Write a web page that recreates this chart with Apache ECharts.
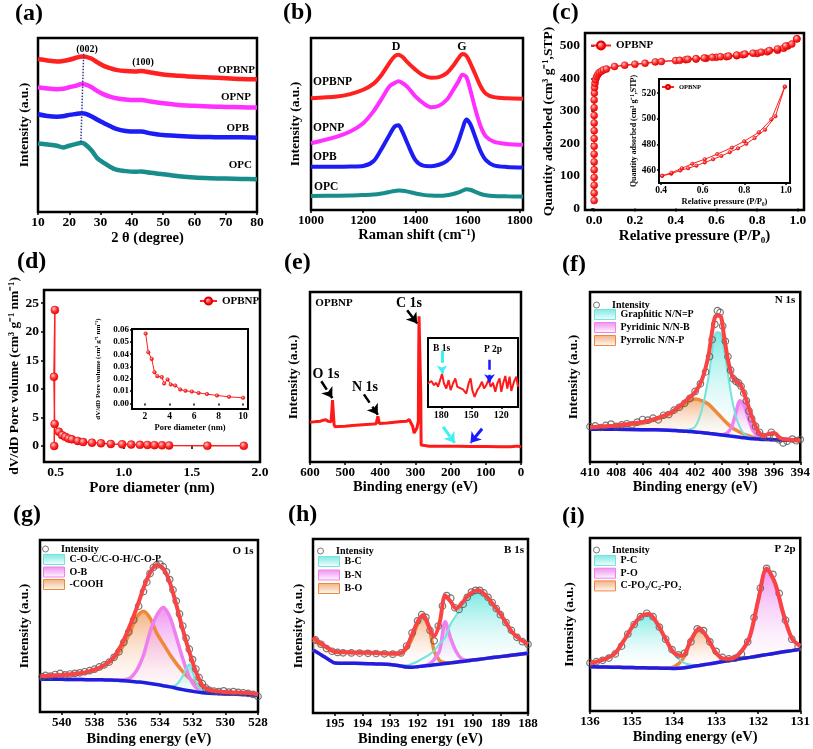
<!DOCTYPE html>
<html><head><meta charset="utf-8">
<script src="https://cdn.jsdelivr.net/npm/echarts@6/dist/echarts.min.js"></script>
<style>html,body{margin:0;padding:0;background:#fff}#c{width:813px;height:749px}</style>
</head><body><div id="c"></div>
<script>
// ---------- (a) XRD ----------
const xrdTheta = [10,13,16,18,20,22,24,25,27,29,31,33,35,38,41,43,46,50,55,60,65,70,75,80];
const xrdOPBNP = [87.9,87.1,86.5,86.8,87.5,88.5,89.4,89.3,88.2,86.0,84.0,82.7,81.7,81.0,80.8,81.0,80.2,79.0,78.3,77.7,77.3,76.9,76.5,76.3];
const xrdOPNP = [71.7,71.0,70.6,70.8,71.7,72.5,73.5,73.3,71.8,69.5,67.6,66.3,65.4,64.7,64.4,64.4,63.5,62.5,61.5,61.0,60.6,60.4,60.2,60.0];
const xrdOPB = [56.2,55.2,54.8,55.0,55.8,56.3,56.7,56.5,55.0,53.0,51.2,49.4,47.8,46.6,46.2,46.2,45.2,44.2,43.7,43.3,43.1,42.9,42.9,42.7];
const xrdOPC = [39.4,38.8,38.1,37.1,38.1,39.0,39.8,39.0,35.6,30.8,28.3,26.0,24.4,23.5,23.1,23.3,22.5,21.7,20.6,19.8,19.4,19.2,19.0,18.8];
const xrdTicks = [10,20,30,40,50,60,70,80];
// ---------- (b) Raman ----------
const ramanShift = [1000,1100,1150,1200,1240,1270,1300,1320,1335,1350,1370,1400,1430,1460,1490,1520,1545,1565,1580,1595,1610,1630,1650,1670,1700,1750,1812];
const ramanOPBNP = [65.0,66.0,67.4,69.9,73.5,78.5,85.4,89.3,90.3,89.1,85.8,81.6,78.3,76.9,77.3,79.6,83.9,88.3,90.7,89.7,85.4,78.6,71.8,67.6,65.6,64.9,64.7];
const ramanOPNP = [38.8,42.7,45.6,50.5,57.5,64.5,71.8,73.8,74.8,73.8,71.5,66.0,62.1,59.8,60.6,64.1,69.9,74.8,78.6,77.3,69.9,58.3,48.5,42.7,39.8,38.4,37.9];
const ramanOPB = [25.2,25.2,25.3,25.6,28.5,35.5,43.5,48.5,49.3,45.5,38.5,29.0,25.8,25.5,26.3,28.5,33.0,40.2,47.0,52.6,50.0,42.0,34.0,29.0,26.0,25.0,24.7];
const ramanOPC = [8.2,8.3,8.4,8.7,9.0,9.6,10.5,11.1,11.3,11.2,10.7,9.6,8.8,8.4,8.3,8.6,9.3,10.2,11.2,12.0,11.8,10.5,9.3,8.6,8.2,8.0,7.8];
const ramanTicks = [1000,1200,1400,1600,1800];
// ---------- (c) N2 isotherm ----------
const betAdsP = [0,0,0,0,0,0,0,0,0,0,0,0,0,0,0.001,0.002,0.004,0.007,0.012,0.018,0.025,0.035,0.045,0.06,0.1,0.15,0.2,0.25,0.3,0.33,0.4,0.45,0.5,0.55,0.6,0.65,0.7,0.73,0.8,0.85,0.9,0.93,0.95,0.995];
const betAdsQ = [24,47,71,95,119,143,167,191,215,239,263,286,310,334,355,372,385,396,405,412,418,422,426,429,437,441,444,447,451,452,455,458,460,462,465,467,470,473,477,482,487,493,500,522];
const betDesP = [0.995,0.97,0.94,0.9,0.86,0.82,0.78,0.74,0.7,0.66,0.62,0.58,0.54,0.5,0.46,0.42];
const betDesQ = [522,506,500,491,486,481,478,475,472,469,467,465,463,461,459,456];
const betInAdsP = [0.405,0.449,0.492,0.53,0.57,0.61,0.65,0.69,0.73,0.77,0.81,0.85,0.9,0.95,0.995];
const betInAdsQ = [455.6,457.2,459.8,461.5,463.5,466,468.5,471,474,477,480.5,485,491.5,502,525];
const betInDesP = [0.995,0.93,0.87,0.8,0.74,0.67,0.61,0.55,0.5,0.45,0.405];
const betInDesQ = [525,499.5,489.5,482.5,477.5,472.5,468.5,465,461.5,458,455.6];
const betXTicks = [0,0.2,0.4,0.6,0.8,1.0];
const betYTicks = [0,100,200,300,400,500];
const betInXTicks = [0.4,0.6,0.8,1.0];
const betInYTicks = [460,480,500,520];
// ---------- (d) pore size ----------
const poreD = [0.49,0.495,0.488,0.493,0.524,0.548,0.571,0.595,0.619,0.662,0.702,0.767,0.833,0.905,0.988,1.055,1.119,1.174,1.226,1.281,1.333,1.614,1.881];
const poreV = [0,23.8,12.1,3.85,2.5,1.9,1.6,1.3,1.17,0.88,0.7,0.58,0.47,0.35,0.3,0.25,0.2,0.18,0.15,0.12,0.1,0.05,0.03];
const poreInD = [2.05,2.27,2.55,2.77,3.0,3.37,3.56,3.84,4.1,4.46,4.87,5.3,5.82,6.37,7.05,7.87,8.85,10.0];
const poreInV = [0.0568,0.0416,0.0362,0.0254,0.0222,0.0214,0.0162,0.0195,0.0154,0.0146,0.0114,0.0103,0.0097,0.0086,0.0076,0.0065,0.0054,0.0046];
const poreXTicks = [0.5,1.0,1.5,2.0];
const poreYTicks = [0,5,10,15,20,25];
const poreInXTicks = [2,4,6,8,10];
const poreInYTicks = [0,0.01,0.02,0.03,0.04,0.05,0.06];
// ---------- (e) XPS survey ----------
const surveyBE = [600,590,580,570,562,555,548,540,537,536,532.5,531.5,529,520,500,480,460,440,420,412,409,407,405,403,400,380,360,340,325,318,314,308,304,300,296,292,291,290,287,285,284,280,260,220,180,140,100,60,30,15,10,5,0];
const surveyI = [23.3,23.6,23.8,24.0,24.6,24.8,23.9,23.6,24.2,36.4,36.7,22.0,20.8,20.9,21.1,21.4,21.7,22.0,22.3,22.5,22.6,26.9,26.5,22.6,22.4,23.0,23.4,23.8,24.0,25.0,25.2,21.0,17.0,17.5,20.0,24.0,60.0,85.7,85.7,40.0,10.0,9.3,9.3,9.2,9.2,9.1,9.1,9.0,9.0,9.2,9.8,9.2,8.8];
const surveyInBE = [193.3,191.7,190,187.3,185,183.3,181.7,179.3,177.3,175,172.7,170.7,168.3,166,164,161.7,158.3,155,152.7,150.7,149,146.7,144,141.7,139.3,137.3,135,132.7,130.7,128.3,126,124,121.7,120,118.3,116,114,111.7,110,107.3,105,103.3];
const surveyInI = [34,34.1,37.6,31.7,35.1,29.3,36.6,47.8,34.1,26.8,39.0,24.4,34.1,41.5,29.3,27.8,25.4,19.5,34.1,41.5,24.4,14.6,24.4,29.3,36.6,26.8,31.7,40.0,29.3,35.1,22.0,34.1,41.5,22.0,33.2,44.9,26.8,43.9,23.4,36.6,43.9,29.3];
const surveyTicks = [0,100,200,300,400,500,600];
const surveyInTicks = [120,150,180];
// ---------- (f) N 1s ----------
const n1sBE = [410,408,406,405,404,403.5,403,402.5,402,401.5,401,400.7,400.4,400.1,399.8,399.5,399.2,398.9,398.6,398.3,398,397.6,397.2,396.8,396.4,396,395.5,395,394];
const n1sBg = [19.3,19.2,19.0,18.9,18.7,18.5,18.3,18.0,17.7,17.3,16.9,16.6,16.3,16.0,15.7,15.4,15.1,14.8,14.5,14.2,14.0,13.7,13.5,13.3,13.2,13.1,13.0,12.9,12.7];
const n1sPyrrolic = [1.2,2.0,3.8,6.0,9.2,11.8,14.5,17.5,19.3,18.8,17.2,15.3,13.2,11.0,8.8,6.9,5.3,4.0,3.0,2.2,1.6,0.9,0.5,0.3,0.2,0.1,0,0,0];
const n1sPyridinic = [0,0,0,0,0,0,0,0,0,0,0,0,0,0,0.5,2,6,14,21.5,20,13,5,1.5,0.4,0,0,0,0,0];
const n1sGraphitic = [0,0,0,0,0,0,0.3,1,3,13,32,48,60,60,50,36,22,12,6,2.5,1,0.3,0,0,0,0,0,0,0];
const n1sFit = [20.5,21.5,23.5,25.5,28.5,31,34,37.5,41,48,62,77,86,86,74,60,51,47.5,46,41,34,25,18,15.5,16.5,17,14,13.3,12.8];
const n1sRawBE = [410,409.6,409.2,408.8,408.4,408,407.6,407.2,406.8,406.4,406,405.6,405.2,404.8,404.4,404,403.6,403.2,402.8,402.4,402,401.6,401.2,400.9,400.7,400.5,400.3,400.1,399.9,399.7,399.5,399.3,399.1,398.9,398.7,398.5,398.3,398.1,397.9,397.7,397.4,397.1,396.8,396.5,396.2,395.9,395.6,395.3,395,394.6,394.3,394];
const n1sRawI = [20.8,21.2,20.3,21.5,22.3,21.0,21.8,22.5,21.9,23.5,25.0,24.6,25.8,24.8,27.5,27.9,30.5,32.2,34.5,37.5,41.5,46,53,62,72,81,89,88,80,71,62,54,49,47.5,46.5,44.5,40.5,36,30,25.5,21,17.5,15,14.5,17.5,14.3,13,11.2,12.2,13.5,12.5,13.2];
const n1sTicks = [394,396,398,400,402,404,406,408,410];
// ---------- (g) O 1s ----------
const o1sBE = [541.3,541,540.5,540,539.5,539,538.5,538,537.5,537,536.6,536.2,535.8,535.4,535,534.6,534.2,533.8,533.4,533,532.6,532.2,531.8,531.4,531,530.5,530,529.5,529,528.5,528];
const o1sBg = [19.0,19.0,19.0,19.0,18.9,18.9,18.8,18.8,18.7,18.6,18.4,18.2,17.9,17.5,17.1,16.6,16.0,15.3,14.6,13.8,13.0,12.3,11.7,11.2,10.9,10.7,10.5,10.4,10.2,10.1,9.7];
const o1sCOOH = [1.4,1.6,1.9,2.2,2.7,3.3,4.2,5.6,7.8,11,15,21,29,38,41.5,38,30,24.5,19,14.5,10.5,7.3,5,3.3,2.3,1.5,1.0,0.7,0.5,0.3,0.2];
const o1sOB = [0,0,0,0,0,0,0,0,0,0,0,0.5,2,7,16,30,40,45.5,41,30,18,8,2.5,0.6,0.1,0,0,0,0,0,0];
const o1sCOC = [0,0,0,0,0,0,0,0,0,0,0,0,0,0,0,0,0,0,0.3,2,8,15.5,6,1,0.2,0,0,0,0,0,0];
const o1sFit = [20.8,21.0,21.3,21.5,22,22.5,23.2,24.6,26.8,30,35,42,51,61,72,81,85.5,83.5,75.5,62.5,48,35,23.5,15.5,13,12,11.6,11.4,11.2,11,10.3];
const o1sRawBE = [541.2,541.0,540.7,540.4,540.1,539.8,539.5,539.2,538.9,538.6,538.3,538.0,537.7,537.4,537.1,536.8,536.5,536.2,535.9,535.6,535.3,535.0,534.8,534.6,534.4,534.2,534.0,533.8,533.6,533.4,533.2,533.0,532.8,532.6,532.4,532.2,532.0,531.8,531.6,531.4,531.2,531.0,530.7,530.4,530.1,529.8,529.5,529.2,528.9,528.6,528.3,528.0];
const o1sRawI = [20.5,21.3,20.9,21.8,22.4,21.6,22.1,22.4,22.8,23.4,24.0,24.9,26.2,27.4,29.0,31.8,35.0,40.5,46.5,53.5,61.5,70.0,75.5,80.5,84.0,85.5,86.0,84.5,81.5,77.0,71.0,64.5,57,50,43,36.5,30.5,25,20,16.5,14,12.8,12.2,11.8,12.3,11.6,11.9,11.4,11.2,10.8,10.2,9.0];
const o1sTicks = [528,530,532,534,536,538,540];
// ---------- (h) B 1s ----------
const b1sBE = [195.79,195.5,195.2,195,194.5,194,193.5,193,192.6,192.4,192.2,192,191.8,191.6,191.4,191.2,191,190.8,190.6,190.4,190.2,190,189.8,189.5,189.2,189,188.6,188.3,188];
const b1sBg = [36.2,33.5,30.5,28.8,28.6,28.5,28.2,27.9,27.0,26.4,26.3,26.6,27.0,27.3,27.7,28.0,28.4,28.8,29.2,29.6,30.0,30.4,30.8,31.4,32.0,32.4,33.2,33.8,34.4];
const b1sBO = [5.5,5.8,6.2,6.3,6.4,6.4,6.4,6.5,7.5,10.5,16.5,24.5,29.3,23,8,2,0.5,0,0,0,0,0,0,0,0,0,0,0,0];
const b1sBN = [0,0,0,0,0,0,0,0,0,0,0,0,0,0.5,3,8,24,14,6,1.5,0.3,0,0,0,0,0,0,0,0];
const b1sBC = [0,0,0,0,0,0,0,0,0.3,1,2,3,4.5,6,8,12,15,22.5,27,31,35,37.5,38,35,28.5,24.5,14,9,5.5];
const b1sFit = [43.5,40,36.8,35.2,34.8,34.6,34.5,34,34.5,38,45,52.5,56.3,50,44,52,67.5,64,60,63,67,69.5,70.5,67,61,57,47,42.5,39.5];
const b1sRawBE = [195.7,195.5,195.3,195.1,194.9,194.7,194.4,194.1,193.8,193.5,193.2,192.9,192.6,192.4,192.2,192.0,191.85,191.7,191.55,191.4,191.25,191.1,190.95,190.8,190.65,190.5,190.35,190.2,190.05,189.9,189.75,189.6,189.45,189.3,189.15,189.0,188.8,188.6,188.4,188.2,188.0];
const b1sRawI = [42,39.5,37,35.5,34.8,34.6,34.5,34.4,34.3,34.2,34,33.8,34.5,38.5,46,53,56.5,55,47.5,41.5,50,61.5,67.5,66,60.5,59.5,62.5,66.5,69.5,70.5,70.5,69,66.5,63.5,60,56.5,52,47.5,43.5,41,39.5];
const b1sTicks = [188,189,190,191,192,193,194,195];
// ---------- (i) P 2p ----------
const p2pBE = [136,135.8,135.6,135.4,135.2,135,134.8,134.6,134.4,134.2,134,133.8,133.6,133.4,133.2,133,132.8,132.6,132.4,132.2,132,131.8,131.6,131.4,131.2,131];
const p2pBg = [25.6,25.5,25.4,25.3,25.2,25.1,25.0,24.9,24.8,24.7,24.6,24.8,25.6,26.3,27.1,27.9,28.7,29.5,30.3,31.0,31.8,32.6,33.4,34.2,34.9,35.7];
const p2pCPO = [0,0,0,0,0,0,0,0,0,0,1,5,15,21.5,15,5.5,1.2,0.2,0,0,0,0,0,0,0,0];
const p2pPO = [0,0,0,0,0,0,0,0,0,0,0,0,0,0,0,0,0.3,1,4,12,32,49.7,40,22,7,2];
const p2pPC = [1.8,2.8,4.5,8,15,23,29.5,31,25.5,16.5,8.5,3.5,1.2,0.3,0,0,0,0,0,0,0,0,0,0,0,0];
const p2pFit = [27.4,28.8,30.5,33.5,40.5,48.5,54.5,56,50.5,41.5,33.5,32,41,47.8,42,33.5,30.2,30.5,34.5,43,64,82.3,74,56,42,37.5];
const p2pRawBE = [136,135.85,135.7,135.55,135.4,135.25,135.1,134.95,134.8,134.65,134.5,134.35,134.2,134.05,133.9,133.75,133.6,133.45,133.3,133.15,133.0,132.85,132.7,132.55,132.4,132.25,132.1,131.95,131.8,131.65,131.5,131.35,131.2,131.05];
const p2pRawI = [27.8,28.5,29.3,30.6,33,37.5,44.5,50,54.5,56.5,54.5,48.5,41.5,35.5,32.5,33.5,40,47.5,46.5,40,34.5,31,30.2,30.5,33,40,54,71,82.5,79,68,52.5,41.5,37.5];
const p2pTicks = [131,132,133,134,135,136];

// ================= build =================
const F = 'Liberation Serif';
const K = '#000';
const zip = (xs, ys) => xs.map((x, i) => [x, ys[i]]);
const vgrad = (c1, c2) => new echarts.graphic.LinearGradient(0, 0, 0, 1, [{offset: 0, color: c1}, {offset: 1, color: c2}]);
const ball = {type: 'radial', x: 0.38, y: 0.35, r: 0.7, colorStops: [{offset: 0, color: '#ffc8c8'}, {offset: 0.5, color: '#ff3030'}, {offset: 1, color: '#e00000'}]};

const gridBoxes = [
  [38, 38, 219, 174],   // 0 a
  [311, 38, 212, 172],  // 1 b
  [585, 33, 219, 177],  // 2 c
  [659, 79, 131, 104],  // 3 c inset
  [44, 290, 216, 172],  // 4 d
  [132, 329, 116, 80],  // 5 d inset
  [310, 292, 211, 170], // 6 e
  [428, 338, 90, 69],   // 7 e inset
  [590, 292, 211, 170], // 8 f
  [40, 540, 218, 172],  // 9 g
  [313, 539, 215, 174], // 10 h
  [590, 538, 211, 173]  // 11 i
];
const insetIdx = [3, 5, 7];
const grid = gridBoxes.map((b, i) => ({
  left: b[0], top: b[1], width: b[2], height: b[3], show: true,
  borderColor: K, borderWidth: insetIdx.includes(i) ? 2 : 2.5,
  backgroundColor: insetIdx.includes(i) ? '#fff' : 'transparent', containLabel: false
}));

function ax(gi, min, max, ticks, o) {
  o = o || {};
  const hasT = !!ticks;
  return {
    gridIndex: gi, type: 'value', min: min, max: max, inverse: !!o.inverse,
    axisLine: {show: false}, splitLine: {show: false},
    axisTick: {show: hasT, length: o.tl || 3, lineStyle: {color: K, width: 1.5}, customValues: ticks},
    axisLabel: {show: hasT, customValues: ticks, fontFamily: F, fontWeight: 'bold', fontSize: o.fs || 13, color: K, margin: o.margin || 4, formatter: o.fmt || (v => String(v))},
    name: o.name || '', nameLocation: 'middle', nameGap: o.gap || 18,
    nameTextStyle: {fontFamily: F, fontWeight: 'bold', fontSize: o.nfs || 14.5, color: K}
  };
}
const f1 = v => v.toFixed(1);
const f2 = v => v.toFixed(2);
const INT = 'Intensity (a.u.)';
const BE = 'Binding energy (eV)';

const xAxis = [
  ax(0, 10, 80, xrdTicks, {name: '2 θ (degree)', gap: 19, fs: 13.5}),
  ax(1, 1000, 1812, ramanTicks, {name: 'Raman shift (cm⁻¹)', gap: 18}),
  ax(2, -0.045, 1.03, betXTicks, {name: 'Relative pressure (P/P₀)', gap: 19, fmt: f1, fs: 13.5, nfs: 15}),
  ax(3, 0.39, 1.02, betInXTicks, {name: 'Relative pressure (P/P₀)', gap: 13, fmt: f1, fs: 9.5, nfs: 8.5, margin: 3, tl: 2}),
  ax(4, 0.415, 2.0, poreXTicks, {name: 'Pore diameter (nm)', gap: 18, fmt: f1, fs: 13.5, nfs: 15}),
  ax(5, 0.94, 10.4, poreInXTicks, {name: 'Pore diameter (nm)', gap: 14, fs: 9.5, nfs: 8.5, margin: 3, tl: 2}),
  ax(6, 0, 600, surveyTicks, {name: BE, gap: 18, inverse: true}),
  ax(7, 103.3, 193.3, surveyInTicks, {inverse: true, fs: 10, margin: 3, tl: 2}),
  ax(8, 394, 410, n1sTicks, {name: BE, gap: 18, inverse: true}),
  ax(9, 528, 541.33, o1sTicks, {name: BE, gap: 20, inverse: true}),
  ax(10, 188, 195.79, b1sTicks, {name: BE, gap: 19, inverse: true}),
  ax(11, 131, 136, p2pTicks, {name: BE, gap: 19, inverse: true})
];
const yAxis = [
  ax(0, 0, 100, null, {name: INT, gap: 6, nfs: 13.5}),
  ax(1, 0, 100, null, {name: INT, gap: 8, nfs: 13.5}),
  ax(2, -5, 540, betYTicks, {name: 'Quantity adsorbed (cm³ g⁻¹,STP)', gap: 24, fs: 13.5, nfs: 13.5, margin: 5}),
  ax(3, 450, 531, betInYTicks, {name: 'Quantity adsorbed (cm³ g⁻¹,STP)', gap: 21, fs: 9.5, nfs: 8, margin: 3, tl: 2}),
  ax(4, -2.8, 27.3, poreYTicks, {name: 'dV/dD Pore volume (cm³ g⁻¹ nm⁻¹)', gap: 22, fs: 13.5, nfs: 13.5, margin: 5}),
  ax(5, -0.0045, 0.0605, poreInYTicks, {name: 'dV/dD Pore volume (cm³ g⁻¹ nm⁻¹)', gap: 30, fmt: f2, fs: 9, nfs: 7, margin: 3, tl: 2}),
  ax(6, 0, 100, null, {name: INT, gap: 9, nfs: 13.5}),
  ax(7, 0, 100, null, {}),
  ax(8, 0, 100, null, {name: INT, gap: 9, nfs: 13.5}),
  ax(9, 0, 100, null, {name: INT, gap: 8, nfs: 13.5}),
  ax(10, 0, 100, null, {name: INT, gap: 7, nfs: 13.5}),
  ax(11, 0, 100, null, {name: INT, gap: 13, nfs: 13.5})
];

const series = [];
function line(gi, name, xs, ys, color, width, extra) {
  series.push(Object.assign({
    type: 'line', name: name, xAxisIndex: gi, yAxisIndex: gi, data: zip(xs, ys),
    showSymbol: false, symbol: 'none', smooth: 0.3,
    lineStyle: {color: color, width: width}, itemStyle: {color: color}, silent: true, animation: false
  }, extra || {}));
}
// (a)
line(0, 'OPBNP-a', xrdTheta, xrdOPBNP, '#ff2020', 4.5, {markLine: {silent: true, symbol: 'none', label: {show: false}, animation: false,
  lineStyle: {color: '#35358a', width: 1.5, type: 'dotted'}, data: [[{coord: [24.6, 91]}, {coord: [23.7, 40]}]]}});
line(0, 'OPNP-a', xrdTheta, xrdOPNP, '#ff30ff', 4.5);
line(0, 'OPB-a', xrdTheta, xrdOPB, '#1c1cf5', 4.5);
line(0, 'OPC-a', xrdTheta, xrdOPC, '#198c8c', 4.5);
// (b)
line(1, 'OPBNP-b', ramanShift, ramanOPBNP, '#ff2020', 4);
line(1, 'OPNP-b', ramanShift, ramanOPNP, '#ff30ff', 4);
line(1, 'OPB-b', ramanShift, ramanOPB, '#1c1cf5', 4);
line(1, 'OPC-b', ramanShift, ramanOPC, '#198c8c', 4);
// (c)
const mk = (size) => ({showSymbol: true, symbol: 'circle', symbolSize: size, smooth: false, itemStyle: {color: ball, borderColor: '#e00000', borderWidth: 0.5}});
line(2, 'OPBNP', betAdsP, betAdsQ, '#ff2020', 1.5, mk(7));
line(2, 'OPBNP', betDesP, betDesQ, '#ff2020', 1.5, mk(7));
line(3, 'OPBNP', betInAdsP, betInAdsQ, '#ff2020', 1, mk(3.5));
line(3, 'OPBNP', betInDesP, betInDesQ, '#ff2020', 1, mk(3.5));
// (d)
line(4, 'OPBNP', poreD, poreV, '#ff2020', 1.5, mk(8));
line(5, 'OPBNP', poreInD, poreInV, '#ff2020', 1, mk(3.5));
// (e)
const arrow = (c, a, b, w) => [{coord: a, lineStyle: {color: c, width: w}}, {coord: b}];
line(6, 'survey', surveyBE, surveyI, '#ff1a1a', 3, {smooth: false, markLine: {silent: true, symbol: ['none', 'arrow'], symbolSize: 10, label: {show: false}, animation: false,
  data: [arrow(K, [567.8, 47.5], [536.6, 37.6], 2.5), arrow(K, [446.7, 39.8], [406.9, 27.8], 2.5), arrow(K, [323.7, 89.2], [295.3, 81.5], 2.5),
         arrow('#3ff0f0', [221.5, 20.6], [188.3, 11.2], 3), arrow('#1a1aff', [110.7, 19.6], [143.9, 11.2], 3)]}});
line(7, 'survey-inset', surveyInBE, surveyInI, '#ff1a1a', 2, {smooth: false, markLine: {silent: true, symbol: ['none', 'arrow'], symbolSize: 8, label: {show: false}, animation: false,
  data: [arrow('#3ff0f0', [179.3, 81.5], [179.3, 48.5], 3), arrow('#1a1aff', [131.7, 68.3], [131.7, 36], 2.5)]}});

// XPS panels: components are stacked on the fitted background (value-first dims so the y value is stacked)
const CY = {line: '#72e4dc', lw: 2, f1: 'rgba(95,228,220,0.8)', f2: 'rgba(255,255,255,0.15)'};
const MG = {line: '#ef80ef', lw: 3.5, f1: 'rgba(236,120,236,0.8)', f2: 'rgba(255,255,255,0.15)'};
const OR = {line: '#f0883c', lw: 3.5, f1: 'rgba(240,160,100,0.8)', f2: 'rgba(255,255,255,0.15)'};
const yx = (xs, ys) => xs.map((x, i) => [ys[i], x]);
function xps(gi, X, bg, comps, fit, rx, ry) {
  comps.forEach((c, k) => {
    const st = 'stk' + gi + '_' + k;
    series.push({type: 'line', name: '_base' + gi + '_' + k, xAxisIndex: gi, yAxisIndex: gi, data: yx(X, bg), encode: {x: 1, y: 0},
      stack: st, stackStrategy: 'all', symbol: 'none', showSymbol: false, smooth: 0.3, lineStyle: {opacity: 0, width: 0}, silent: true, animation: false, z: 2});
    series.push({type: 'line', name: c.name, xAxisIndex: gi, yAxisIndex: gi, data: yx(X, c.data), encode: {x: 1, y: 0},
      stack: st, stackStrategy: 'all', symbol: 'none', showSymbol: false, smooth: 0.3,
      lineStyle: {color: c.s.line, width: c.s.lw}, itemStyle: {color: c.s.line},
      areaStyle: {color: vgrad(c.s.f1, c.s.f2), opacity: 1}, silent: true, animation: false, z: 2});
  });
  series.push({type: 'line', name: '_bg' + gi, xAxisIndex: gi, yAxisIndex: gi, data: zip(X, bg), symbol: 'none', smooth: 0.3,
    lineStyle: {color: '#1f1fe0', width: 3.5}, silent: true, animation: false, z: 3});
  series.push({type: 'scatter', name: 'Intensity', xAxisIndex: gi, yAxisIndex: gi, data: zip(rx, ry), symbol: 'circle', symbolSize: 6.5,
    itemStyle: {color: 'rgba(255,255,255,0)', borderColor: '#555', borderWidth: 1.2}, silent: true, animation: false, z: 4});
  series.push({type: 'line', name: '_fit' + gi, xAxisIndex: gi, yAxisIndex: gi, data: zip(X, fit), symbol: 'none', smooth: 0.3,
    lineStyle: {color: '#f84444', width: 4}, silent: true, animation: false, z: 5});
}
xps(8, n1sBE, n1sBg, [{name: 'Pyrrolic N/N-P', data: n1sPyrrolic, s: OR}, {name: 'Pyridinic N/N-B', data: n1sPyridinic, s: MG}, {name: 'Graphitic N/N=P', data: n1sGraphitic, s: CY}], n1sFit, n1sRawBE, n1sRawI);
xps(9, o1sBE, o1sBg, [{name: '-COOH', data: o1sCOOH, s: OR}, {name: 'O-B', data: o1sOB, s: MG}, {name: 'C-O-C/C-O-H/C-O-P', data: o1sCOC, s: CY}], o1sFit, o1sRawBE, o1sRawI);
xps(10, b1sBE, b1sBg, [{name: 'B-O', data: b1sBO, s: OR}, {name: 'B-N', data: b1sBN, s: MG}, {name: 'B-C', data: b1sBC, s: CY}], b1sFit, b1sRawBE, b1sRawI);
xps(11, p2pBE, p2pBg, [{name: 'C-PO₃/C₂-PO₂', data: p2pCPO, s: OR}, {name: 'P-O', data: p2pPO, s: MG}, {name: 'P-C', data: p2pPC, s: CY}], p2pFit, p2pRawBE, p2pRawI);

// legends
const lt = (fs) => ({fontFamily: F, fontWeight: 'bold', fontSize: fs, color: K});
const legItem = (name, s) => ({name: name, icon: 'rect', itemStyle: {color: vgrad(s.f1, 'rgba(255,255,255,1)'), borderColor: s.line, borderWidth: 1}});
const intItem = {name: 'Intensity', icon: 'circle', itemStyle: {color: '#fff', borderColor: '#555', borderWidth: 1}};
function xpsLegends(l, top1, top2, gap, names) {
  return [
    {left: l - 1, top: top1, orient: 'vertical', padding: 0, itemWidth: 21, itemHeight: 6, selectedMode: false, textStyle: lt(10), data: [intItem]},
    {left: l, top: top2, orient: 'vertical', padding: 0, itemWidth: 21, itemHeight: 10, itemGap: gap, selectedMode: false, textStyle: lt(10),
      data: [legItem(names[0], CY), legItem(names[1], MG), legItem(names[2], OR)]}
  ];
}
const legend = [
  {left: 590, top: 40, padding: 0, itemWidth: 20, itemHeight: 10, selectedMode: false, textStyle: lt(11), data: ['OPBNP']},
  {left: 661, top: 83.5, padding: 0, itemWidth: 12, itemHeight: 5, itemGap: 2, selectedMode: false, textStyle: lt(6.5), data: ['OPBNP']},
  {left: 199, top: 295.5, padding: 0, itemWidth: 17, itemHeight: 9, selectedMode: false, textStyle: lt(11), data: ['OPBNP']}
].concat(
  xpsLegends(594, 300, 309, 2, ['Graphitic N/N=P', 'Pyridinic N/N-B', 'Pyrrolic N/N-P']),
  xpsLegends(43, 544, 554, 1.5, ['C-O-C/C-O-H/C-O-P', 'O-B', '-COOH']),
  xpsLegends(318, 546, 556, 2.5, ['B-C', 'B-N', 'B-O']),
  xpsLegends(594, 545, 555, 1.7, ['P-C', 'P-O', 'C-PO₃/C₂-PO₂'])
);

// texts
const T = (text, x, y, size, align) => ({type: 'text', x: x, y: y, silent: true,
  style: {text: text, font: 'bold ' + size + 'px "Liberation Serif"', fill: K, align: align || 'center', verticalAlign: 'middle'}});
const texts = [
  T('(a)', 15, 14, 24, 'left'), T('(b)', 283, 13, 24, 'left'), T('(c)', 552, 13, 24, 'left'),
  T('(d)', 17, 262, 24, 'left'), T('(e)', 284, 263, 24, 'left'), T('(f)', 562, 265, 24, 'left'),
  T('(g)', 13, 515, 24, 'left'), T('(h)', 288, 515, 24, 'left'), T('(i)', 562, 517, 24, 'left'),
  T('(002)', 87, 49.5, 10), T('(100)', 143, 62.5, 10),
  T('OPBNP', 255, 70, 11, 'right'), T('OPNP', 251, 97.5, 11, 'right'), T('OPB', 249, 128.5, 11, 'right'), T('OPC', 252, 165.5, 11, 'right'),
  T('D', 396, 47, 12), T('G', 462, 47, 12),
  T('OPBNP', 313, 82, 11.5, 'left'), T('OPNP', 313, 128, 11.5, 'left'), T('OPB', 313, 157, 11.5, 'left'), T('OPC', 314, 187, 11.5, 'left'),
  T('OPBNP', 334, 303.5, 11), T('C 1s', 409, 303.5, 14), T('O 1s', 326, 374, 14), T('N 1s', 365, 387, 14),
  T('B 1s', 441.5, 348.5, 9.5), T('P 2p', 493, 350, 9.5),
  T('N 1s', 785, 300.5, 11), T('O 1s', 243, 551, 11), T('B 1s', 514, 550, 11), T('P 2p', 785, 549.5, 11)
];

const chart = echarts.init(document.getElementById('c'), null, {renderer: 'canvas'});
chart.setOption({
  animation: false, backgroundColor: '#fff',
  grid: grid, xAxis: xAxis, yAxis: yAxis, series: series, legend: legend,
  graphic: {elements: texts}
});
</script></body></html>
